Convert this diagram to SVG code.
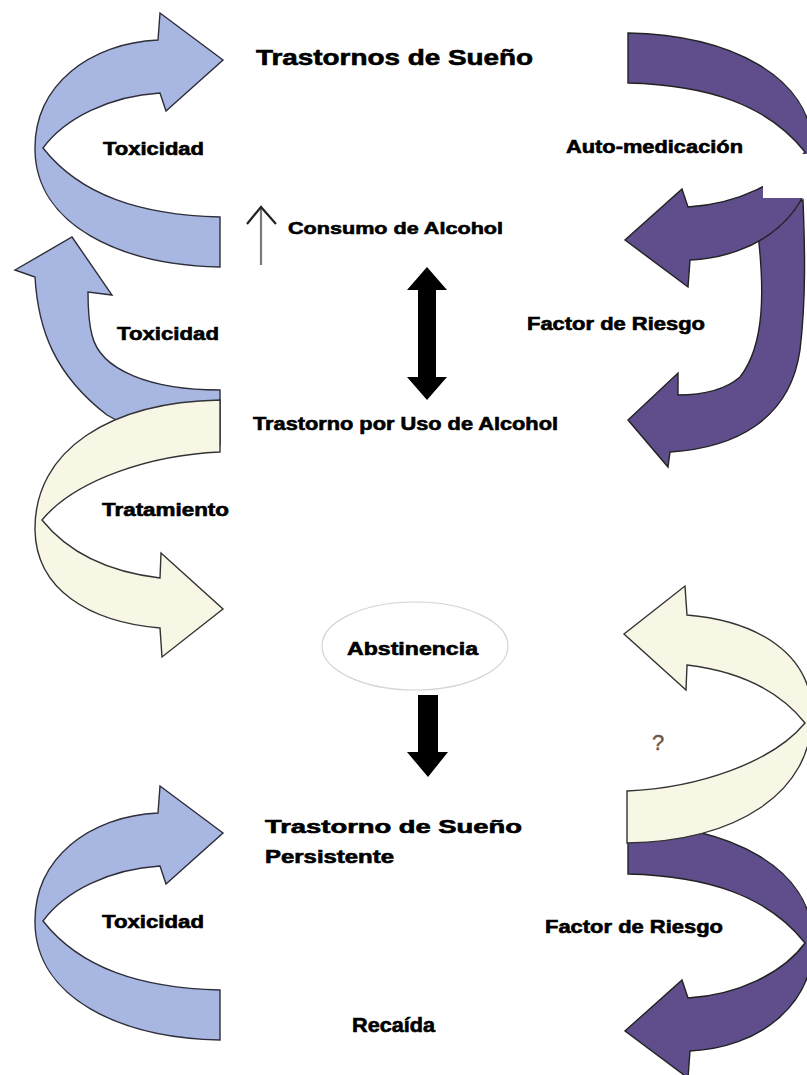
<svg xmlns="http://www.w3.org/2000/svg" xmlns:xlink="http://www.w3.org/1999/xlink" width="807" height="1075" viewBox="0 0 807 1075">
<style>
.t{font-family:"Liberation Sans",Arial,sans-serif;font-weight:bold;fill:#000;stroke:#000;stroke-width:0.6;}
.blue{fill:#a8b6e2;stroke:#2e2e3a;stroke-width:1.4;}
.purple{fill:#5f4d8c;stroke:#222;stroke-width:1.4;}
.cream{fill:#f8f6e4;stroke:#333;stroke-width:1.4;}
</style>
<defs>
<path id="curl" d="M 220,217 L 220,267 C 120,265 36,225 35,150 C 34,85 90,43 158,40 L 160,13 L 223,60 L 166,111 L 160,93 C 110,96 65,118 43,148 C 80,195 140,215 220,217 Z"/>
<path id="curlY" d="M 220,400 L 220,452 C 150,455 75,480 42,520 C 70,555 110,572 160,578 L 161,553 L 223,609 L 162,657 L 160,628 C 90,622 36,590 35,530 C 34,450 110,402 220,400 Z"/>
</defs>
<rect width="807" height="1075" fill="#fff"/>

<g id="arrow-toxicidad-2">
<path class="blue" d="M 220,390 C 150,390 100,370 92,335 C 88,320 88,305 88,292 L 112,295 L 72,237 L 15,270 L 35,277 C 38,330 55,375 107,415 C 140,435 180,442 220,445 Z"/>
</g>
<g id="arrow-toxicidad-1"><use xlink:href="#curl" class="blue"/></g>
<g id="arrow-tratamiento"><use xlink:href="#curlY" class="cream"/></g>

<g id="arrow-factor-riesgo-1">
<path class="purple" d="M 757,225 C 765,290 765,345 740,377 C 725,390 705,395 678,395 L 678,373 L 628,420 L 668,467 L 670,452 C 735,448 790,420 800,350 C 806,300 805,250 803,200 Z"/>
</g>
<g id="arrow-automedicacion">
<use xlink:href="#curl" class="purple" transform="rotate(180 424 150)"/>
<rect x="763" y="154" width="44" height="44" fill="#fff"/>
</g>

<g id="arrow-factor-riesgo-2"><use xlink:href="#curl" class="purple" transform="rotate(180 424 545.5)"/></g>
<g id="arrow-pregunta"><use xlink:href="#curlY" class="cream" transform="rotate(180 423.5 621.5)"/></g>
<g id="arrow-toxicidad-3"><use xlink:href="#curl" class="blue" transform="translate(0 773)"/></g>

<g id="abstinencia">
<ellipse cx="415" cy="646" rx="93" ry="44" fill="#fff" stroke="#d4d4d4" stroke-width="1.2"/>
<text class="t" x="347" y="655" font-size="18" textLength="131" lengthAdjust="spacingAndGlyphs">Abstinencia</text>
</g>

<g id="connectors">
<line x1="261" y1="265" x2="261" y2="209" stroke="#7a7a7a" stroke-width="2.2"/>
<polyline points="247,224 261,207 276,224" fill="none" stroke="#222" stroke-width="2.2"/>
<polygon points="427,267 447,290 436,290 436,377 447,377 427,400 407,377 418,377 418,290 407,290" fill="#000"/>
<polygon points="418,695 438,695 438,752 448,752 428,777 407,752 418,752" fill="#000"/>
</g>

<g id="labels">
<text class="t" x="256" y="65" font-size="22" textLength="277" lengthAdjust="spacingAndGlyphs">Trastornos de Sueño</text>
<text class="t" x="103" y="155" font-size="18" textLength="101" lengthAdjust="spacingAndGlyphs">Toxicidad</text>
<text class="t" x="566" y="153" font-size="18" textLength="177" lengthAdjust="spacingAndGlyphs">Auto-medicación</text>
<text class="t" x="288" y="234" font-size="17" textLength="215" lengthAdjust="spacingAndGlyphs">Consumo de Alcohol</text>
<text class="t" x="117" y="340" font-size="18" textLength="102" lengthAdjust="spacingAndGlyphs">Toxicidad</text>
<text class="t" x="527" y="330" font-size="18" textLength="178" lengthAdjust="spacingAndGlyphs">Factor de Riesgo</text>
<text class="t" x="253" y="430" font-size="18" textLength="305" lengthAdjust="spacingAndGlyphs">Trastorno por Uso de Alcohol</text>
<text class="t" x="102" y="516" font-size="18" textLength="127" lengthAdjust="spacingAndGlyphs">Tratamiento</text>
<text x="652" y="750" font-size="22" font-family="Liberation Sans,Arial,sans-serif" fill="#6a5546" stroke="#6a5546" stroke-width="0.4">?</text>
<text class="t" x="265" y="833" font-size="18" textLength="257" lengthAdjust="spacingAndGlyphs">Trastorno de Sueño</text>
<text class="t" x="265" y="863" font-size="18" textLength="129" lengthAdjust="spacingAndGlyphs">Persistente</text>
<text class="t" x="102" y="928" font-size="18" textLength="102" lengthAdjust="spacingAndGlyphs">Toxicidad</text>
<text class="t" x="545" y="933" font-size="18" textLength="178" lengthAdjust="spacingAndGlyphs">Factor de Riesgo</text>
<text class="t" x="352" y="1032" font-size="20" textLength="83" lengthAdjust="spacingAndGlyphs">Recaída</text>
</g>
</svg>
